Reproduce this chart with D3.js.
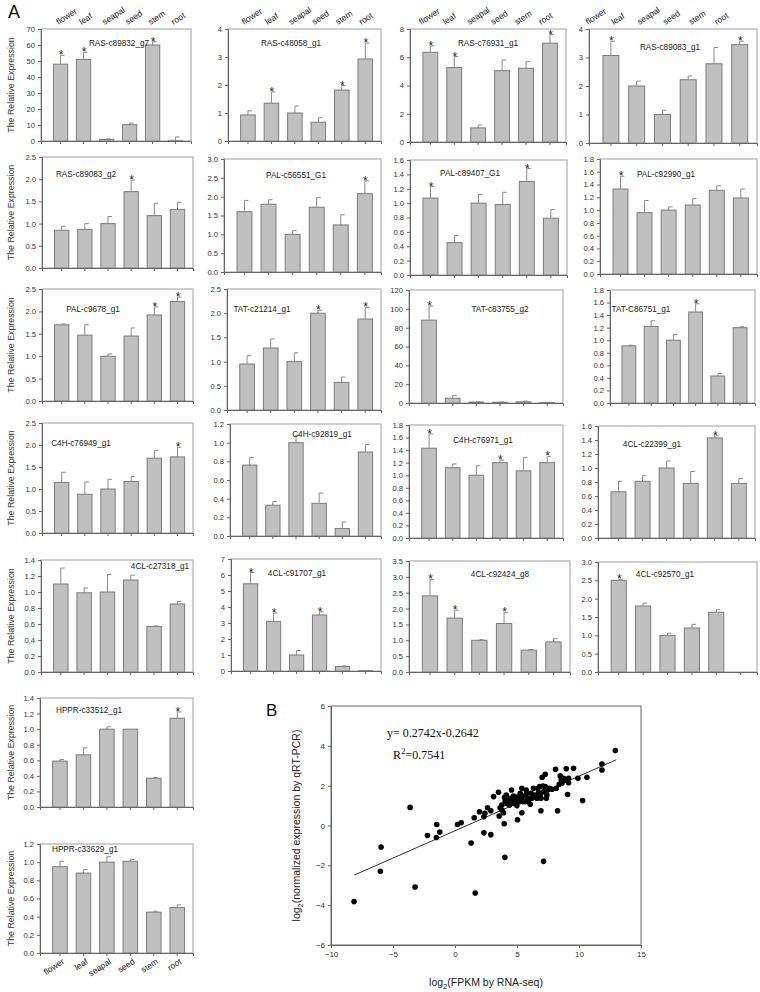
<!DOCTYPE html>
<html><head><meta charset="utf-8">
<script src="https://cdn.jsdelivr.net/npm/d3@7/dist/d3.min.js"></script>
<style>body{margin:0;background:#fff}svg{display:block}</style>
</head><body><svg id="c" width="760" height="992"></svg>
<script>
// ---------- DATA ----------
const categories = ["flower","leaf","seapal","seed","stem","root"];
const genes = ["RAS-c89832_g7","RAS-c48058_g1","RAS-c76931_g1","RAS-c89083_g1",
  "RAS-c89083_g2","PAL-c56551_G1","PAL-c89407_G1","PAL-c92990_g1",
  "PAL-c9678_g1","TAT-c21214_g1","TAT-c83755_g2","TAT-C86751_g1",
  "C4H-c76949_g1","C4H-c92819_g1","C4H-c76971_g1","4CL-c22399_g1",
  "4CL-c27318_g1","4CL-c91707_g1","4CL-c92424_g8","4CL-c92570_g1",
  "HPPR-c33512_g1","HPPR-c33629_g1"];
const yMax  = [70,4,8,4, 2.5,3,1.6,1.8, 2.5,2.5,120,1.8, 2.5,1.2,1.8,1.6, 1.4,7,3.5,3.0, 1.4,1.2];
const yStep = [10,1,2,1, 0.5,0.5,0.2,0.2, 0.5,0.5,20,0.2, 0.5,0.2,0.2,0.2, 0.2,1,0.5,0.5, 0.2,0.2];
const values = [
  [48,51,1.0,10.2,60,0.2],[0.93,1.35,1.0,0.67,1.82,2.93],[6.35,5.27,1.0,5.05,5.22,7.0],[3.07,2.0,1.0,2.22,2.78,3.45],
  [0.85,0.87,1.0,1.72,1.18,1.32],[1.6,1.8,1.0,1.72,1.25,2.08],[1.07,0.45,1.0,0.98,1.3,0.79],[1.33,0.96,1.0,1.08,1.31,1.19],
  [1.7,1.47,1.0,1.45,1.92,2.22],[0.95,1.28,1.0,2.0,0.57,1.88],[88,5,1,0.8,1.2,0.5],[0.91,1.22,1.0,1.45,0.43,1.2],
  [1.15,0.88,1.0,1.17,1.7,1.73],[0.76,0.33,1.0,0.35,0.08,0.9],[1.43,1.12,1.0,1.2,1.07,1.2],[0.66,0.81,1.0,0.78,1.43,0.78],
  [1.1,0.99,1.0,1.15,0.57,0.85],[5.45,3.1,1.0,3.5,0.28,0.02],[2.4,1.7,1.0,1.53,0.69,0.95],[2.5,1.8,1.0,1.2,1.63,0],
  [0.59,0.67,1.0,1.0,0.37,1.14],[0.95,0.88,1.0,1.01,0.45,0.5]];
const errors = [
  [5.5,4.5,0.3,1.0,2.0,2.3],[0.15,0.4,0.25,0.16,0.16,0.57],[0.45,0.78,0.2,0.75,0.46,0.6],[0.5,0.17,0.15,0.13,0.57,0.12],
  [0.09,0.13,0.16,0.26,0.28,0.16],[0.3,0.12,0.1,0.26,0.27,0.34],[0.16,0.1,0.12,0.17,0.18,0.12],[0.2,0.19,0.05,0.1,0.07,0.14],
  [0.02,0.23,0.05,0.18,0.18,0.1],[0.17,0.19,0.18,0.06,0.11,0.24],[15,3,0.3,0.2,0.8,0.2],[0.01,0.09,0.09,0.13,0.04,0.02],
  [0.23,0.28,0.22,0.11,0.18,0.22],[0.08,0.04,0.08,0.11,0.07,0.08],[0.23,0.06,0.15,0.04,0.21,0.1],[0.15,0.08,0.1,0.17,0.03,0.07],
  [0.2,0.06,0.22,0.06,0.005,0.03],[0.7,0.53,0.28,0.2,0.04,0],[0.52,0.25,0.02,0.35,0.02,0.1],[0.03,0.08,0.06,0.1,0.07,0],
  [0.02,0.09,0.03,0,0.01,0.08],[0.06,0.04,0.06,0.02,0.01,0.03]];
const starIdx = [
  [0,1,4],[1,4,5],[0,1,5],[0,5],
  [3],[5],[0,4],[0],
  [4,5],[3,5],[0],[3],
  [5],[],[0,3,5],[4],
  [],[0,1,3],[0,1,3],[0],
  [5],[]];
const scatterX = [-8.14,-5.96,-6.02,-3.62,-3.22,-2.22,-1.47,-1.50,-1.23,0.20,0.50,1.30,1.55,1.63,1.98,2.33,2.33,2.41,2.62,2.89,2.89,3.11,3.51,3.56,3.64,3.78,3.91,3.97,4.02,3.99,4.13,4.18,4.32,4.40,4.56,4.59,4.72,4.86,4.99,5.04,5.12,5.26,5.39,5.39,5.47,5.58,5.66,5.80,5.93,6.07,6.15,6.33,6.39,6.60,6.74,6.82,6.93,6.93,7.03,7.09,7.14,7.14,7.28,7.36,7.47,7.63,8.11,8.16,8.27,8.41,8.49,8.57,8.76,8.89,8.97,9.08,9.16,9.16,9.56,9.91,10.29,10.64,11.85,11.85,12.93,3.78,4.05,4.48,4.78,5.20,5.31,5.74,5.93,6.20,6.47,6.66,6.87,7.28,7.41,7.82,8.62,9.02];
const scatterY = [-3.82,-1.08,-2.30,0.91,-3.09,-0.50,0.05,-0.60,-0.33,0.05,0.14,-0.88,0.39,-3.39,0.69,-0.37,0.44,0.61,0.89,-0.46,0.74,1.45,1.67,0.48,0.89,1.03,0.64,0.09,-1.60,1.40,1.53,1.11,1.28,1.03,1.78,1.20,1.48,1.28,1.00,0.29,1.45,1.62,0.64,1.87,1.20,1.48,1.20,1.62,1.37,1.07,1.62,1.87,1.45,1.37,1.65,1.95,1.37,0.74,2.42,1.98,1.70,-1.80,2.57,1.37,1.78,1.87,2.82,1.87,0.74,2.07,2.49,2.28,2.37,2.28,2.85,1.56,2.15,2.37,2.87,2.37,1.25,2.42,3.09,2.79,3.76,0.78,1.20,1.37,1.11,1.20,1.37,1.78,1.20,1.37,1.53,1.87,1.53,1.95,1.53,1.82,2.12,2.28];
const fitSlope = 0.2742, fitIntercept = -0.2642;
const fitXRange = [-8.1, 13];
const scatterXTicks = [-10,-5,0,5,10,15];
const scatterYTicks = [-6,-4,-2,0,2,4,6];

// ---------- LAYOUT ----------
const panelBoxes = [ // [x0,x1,y0,y1]
  [41,191,29,141],[228,381,29,141],[410,566,29,142],[589,757,29,143],
  [42,193,157,268],[224,381,159,272],[410,567,160,275],[600,757,159,274],
  [42,193,289,401],[227,381,289,410],[409,563,290,403],[610,755,290,403],
  [42,193,423,533],[230,381,424,536],[409,563,425,538],[598,755,426,538],
  [41,193,560,672],[231,381,559,671],[409,570,561,672],[598,757,562,672],
  [40,193,698,807],[40,193,844,953]];
const titlePos = [ // [centerX, baselineY]
  [119,46],[291,46],[488,46],[670,50],
  [86,177],[296,178],[470,176],[666,177],
  [93,312],[262,312],[500,312],[641,312],
  [81,446],[322,437],[483,443],[652,447],
  [160,569],[297,576],[500,577],[665,577],
  [89,713],[85,852]];
const topLabelDx = [-2,-4,-9,-23];
const FONT = "Arial, 'Liberation Sans', Helvetica, sans-serif";
const SERIF = "'Times New Roman', 'Liberation Serif', serif";

const svg = d3.select("#c");
svg.append("rect").attr("width",760).attr("height",992).attr("fill","#fff");

genes.forEach((gene, i) => {
  const [x0,x1,y0,y1] = panelBoxes[i];
  const x = d3.scaleBand().domain(categories).range([x0,x1])
    .paddingInner(0.38).paddingOuter(0.45).align(0.6);
  const y = d3.scaleLinear().domain([0, yMax[i]]).range([y1, y0]);
  const g = svg.append("g");
  g.append("rect").attr("x",x0).attr("y",y0).attr("width",x1-x0).attr("height",y1-y0)
    .attr("fill","none").attr("stroke","#a0a0a0").attr("stroke-width",1);

  const rows = categories.map((c,k)=>({c, v: values[i][k], e: errors[i][k], star: starIdx[i].includes(k)}));
  const eg = g.append("g").attr("stroke","#8a8a8a").attr("stroke-width",1);
  rows.forEach(d => {
    if (d.e <= 0) return;
    const cx = x(d.c) + x.bandwidth()/2;
    eg.append("line").attr("x1",cx).attr("x2",cx).attr("y1",y(d.v)).attr("y2",y(d.v+d.e));
    eg.append("line").attr("x1",cx).attr("x2",cx+4).attr("y1",y(d.v+d.e)).attr("y2",y(d.v+d.e));
  });
  g.selectAll("rect.bar").data(rows).join("rect").attr("class","bar")
    .attr("x", d=>x(d.c)).attr("width", x.bandwidth())
    .attr("y", d=>y(d.v)).attr("height", d=>y(0)-y(d.v))
    .attr("fill","#c0c0c0").attr("stroke","#7c7c7c").attr("stroke-width",1);
  g.selectAll("text.star").data(rows.filter(d=>d.star)).join("text").attr("class","star")
    .attr("x", d=>x(d.c)+x.bandwidth()/2+0.5).attr("y", d=>y(d.v+d.e)+4)
    .attr("text-anchor","middle").attr("font-family",FONT).attr("font-size",12)
    .attr("fill","#222").text("*");

  const ticks = d3.range(0, yMax[i] + yStep[i]/2, yStep[i]);
  const fmt = yStep[i] >= 1 ? d3.format("d") : d3.format(".1f");
  const ya = g.append("g").attr("transform",`translate(${x0},0)`)
    .call(d3.axisLeft(y).tickValues(ticks).tickSize(3).tickPadding(3).tickFormat(fmt));
  ya.select(".domain").attr("stroke","#666");
  ya.selectAll(".tick line").attr("stroke","#666");
  ya.selectAll("text").attr("font-family",FONT).attr("font-size",7.6).attr("fill","#333");
  const xa = g.append("g").attr("transform",`translate(0,${y1})`)
    .call(d3.axisBottom(x).tickSize(3).tickFormat(""));
  xa.select(".domain").attr("stroke","#666");
  xa.selectAll(".tick line").attr("stroke","#666");

  g.append("text").attr("x",titlePos[i][0]).attr("y",titlePos[i][1]).attr("text-anchor","middle")
    .attr("font-family",FONT).attr("font-size",8.2).attr("fill","#222").text(gene);

  if ([0,4,8,12,16,20,21].includes(i)) {
    g.append("text").attr("transform",`translate(14,${(y0+y1)/2}) rotate(-90)`)
      .attr("text-anchor","middle").attr("font-family",FONT).attr("font-size",8.8)
      .attr("fill","#333").text("The Relative Expression");
  }
  if (i < 4) {
    categories.forEach(c => {
      const cx = x(c) + x.bandwidth()/2 + topLabelDx[i];
      g.append("text").attr("transform",`translate(${cx},${y0-4}) rotate(-33)`)
        .attr("font-family",FONT).attr("font-size",8.5).attr("fill","#222").text(c);
    });
  }
  if (i === 21) {
    categories.forEach(c => {
      const cx = x(c) + x.bandwidth()/2 + 5;
      g.append("text").attr("transform",`translate(${cx},${y1+10}) rotate(-33)`)
        .attr("text-anchor","end").attr("font-family",FONT).attr("font-size",8.5)
        .attr("fill","#222").text(c);
    });
  }
});

svg.append("text").attr("x",8).attr("y",18).attr("font-family",FONT).attr("font-size",18).attr("fill","#111").text("A");
svg.append("text").attr("x",266).attr("y",716).attr("font-family",FONT).attr("font-size",17).attr("fill","#111").text("B");

// ---------- SCATTER ----------
const sx0 = 331, sx1 = 641, sy0 = 706, sy1 = 945;
const sx = d3.scaleLinear().domain([-10,15]).range([sx0,sx1]);
const sy = d3.scaleLinear().domain([-6,6]).range([sy1,sy0]);
const sg = svg.append("g");
sg.append("rect").attr("x",sx0).attr("y",sy0).attr("width",sx1-sx0).attr("height",sy1-sy0)
  .attr("fill","none").attr("stroke","#666");
const sxa = sg.append("g").attr("transform",`translate(0,${sy1})`)
  .call(d3.axisBottom(sx).tickValues(scatterXTicks).tickSize(3).tickPadding(3));
const sya = sg.append("g").attr("transform",`translate(${sx0},0)`)
  .call(d3.axisLeft(sy).tickValues(scatterYTicks).tickSize(3).tickPadding(3));
[sxa,sya].forEach(a=>{
  a.select(".domain").attr("stroke","#666");
  a.selectAll(".tick line").attr("stroke","#666");
  a.selectAll("text").attr("font-family",FONT).attr("font-size",8).attr("fill","#333");
});
const line = d3.line().x(d=>sx(d)).y(d=>sy(fitSlope*d + fitIntercept));
sg.append("path").attr("d", line(fitXRange)).attr("stroke","#333").attr("stroke-width",1).attr("fill","none");
sg.selectAll("circle").data(scatterX.map((v,k)=>[v, scatterY[k]])).join("circle")
  .attr("cx",d=>sx(d[0])).attr("cy",d=>sy(d[1])).attr("r",2.8).attr("fill","#000");

sg.append("text").attr("x",387).attr("y",737).attr("font-family",SERIF).attr("font-size",12)
  .attr("fill","#111").text("y= 0.2742x-0.2642");
const r2 = sg.append("text").attr("x",393).attr("y",759).attr("font-family",SERIF).attr("font-size",12).attr("fill","#111");
r2.append("tspan").text("R");
r2.append("tspan").attr("dy",-5).attr("font-size",9).text("2");
r2.append("tspan").attr("dy",5).text("=0.7541");

const xl = sg.append("text").attr("x",(sx0+sx1)/2).attr("y",986).attr("text-anchor","middle")
  .attr("font-family",FONT).attr("font-size",10.5).attr("fill","#222");
xl.append("tspan").text("log");
xl.append("tspan").attr("dy",3).attr("font-size",7.5).text("2");
xl.append("tspan").attr("dy",-3).text("(FPKM by RNA-seq)");

const yl = sg.append("text").attr("transform",`translate(300,${(sy0+sy1)/2}) rotate(-90)`)
  .attr("text-anchor","middle").attr("font-family",FONT).attr("font-size",10.5).attr("fill","#222");
yl.append("tspan").text("log");
yl.append("tspan").attr("dy",3).attr("font-size",7.5).text("2");
yl.append("tspan").attr("dy",-3).text("(normalized expression by qRT-PCR)");
</script></body></html>
